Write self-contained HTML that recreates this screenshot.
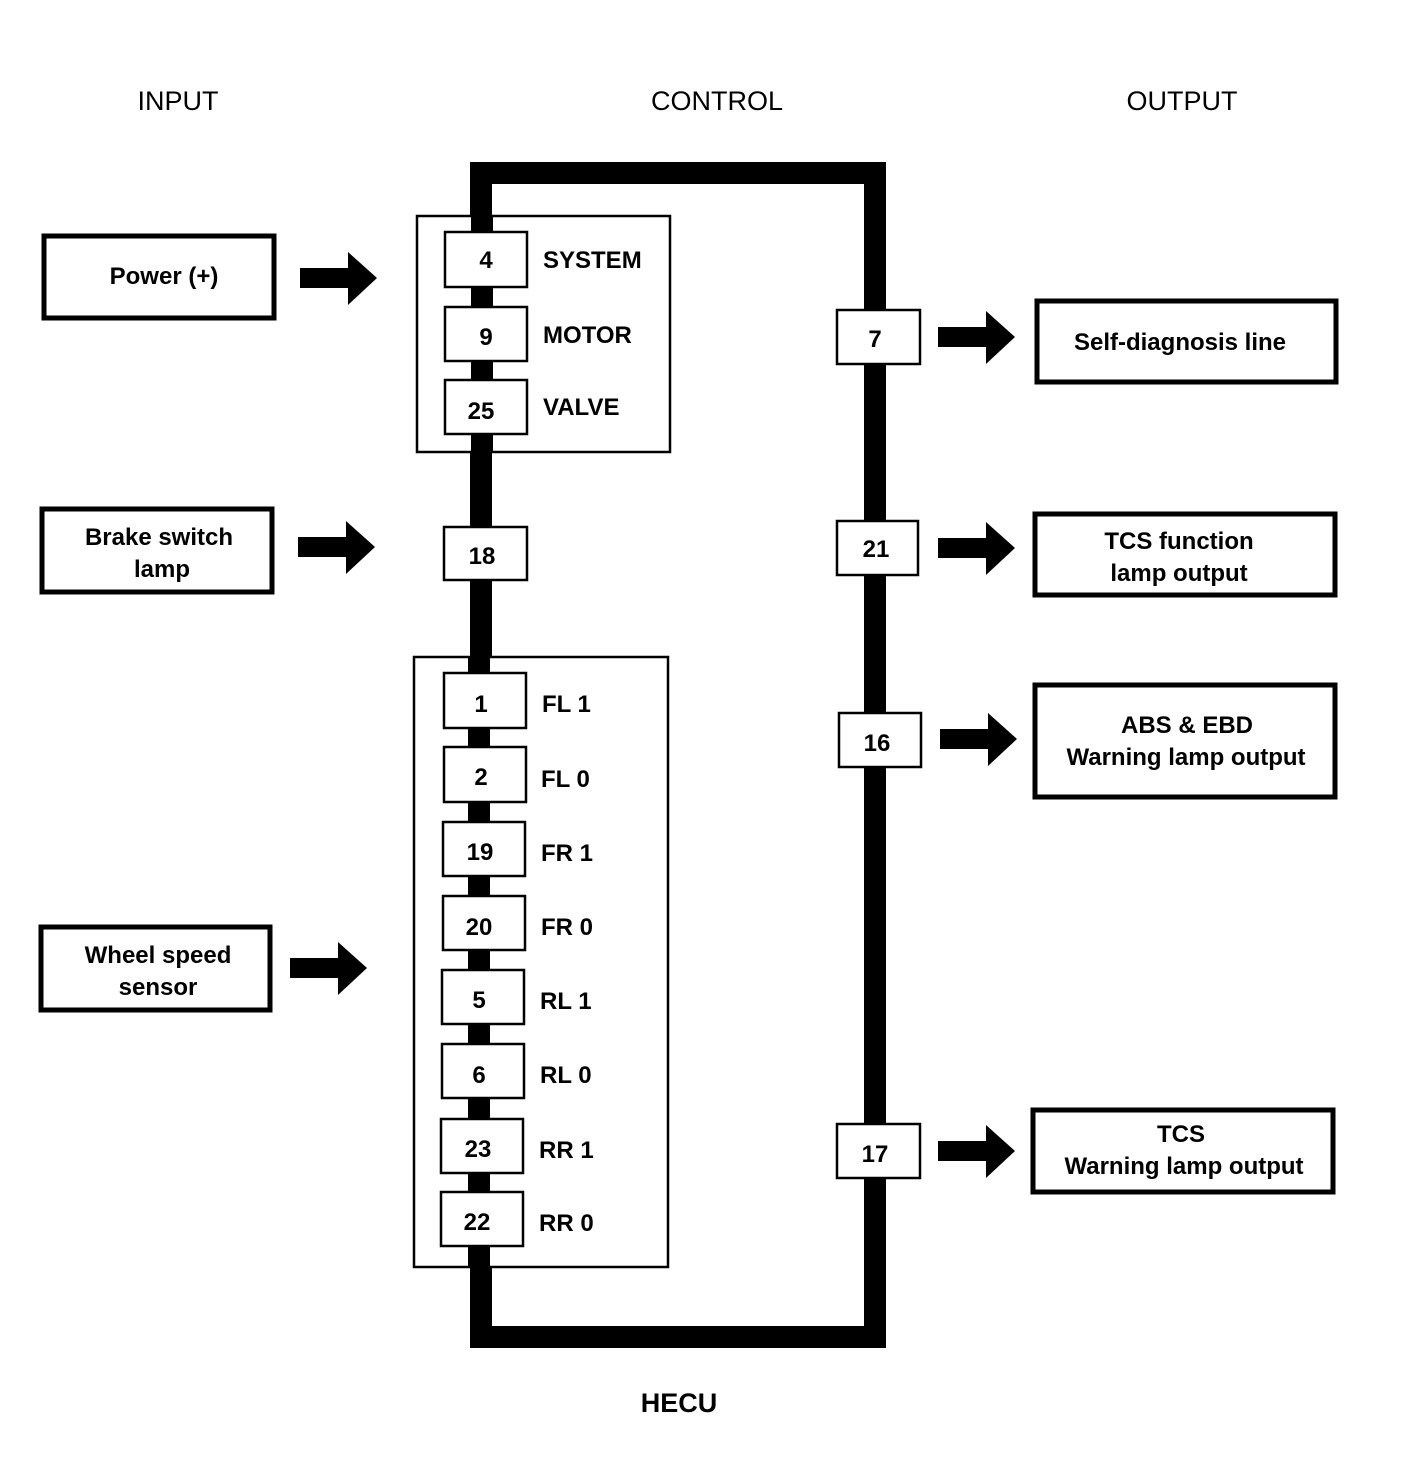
<!DOCTYPE html>
<html><head><meta charset="utf-8"><style>
html,body{margin:0;padding:0;background:#fff;}
svg{display:block;}
text{font-family:"Liberation Sans",Arial,sans-serif;fill:#000;}
</style></head><body>
<svg width="1408" height="1460" viewBox="0 0 1408 1460" xmlns="http://www.w3.org/2000/svg">
<g font-size="27" text-anchor="middle">
<text x="178" y="110">INPUT</text>
<text x="717" y="110">CONTROL</text>
<text x="1182" y="110">OUTPUT</text>
<text x="679" y="1412" font-weight="bold">HECU</text>
</g>
<!-- HECU loop -->
<path d="M481 1337 V173 H875 V1337 Z" fill="none" stroke="#000" stroke-width="22"/>
<!-- group boxes -->
<rect x="417" y="216" width="253" height="236" fill="#fff" stroke="#000" stroke-width="2.5"/>
<rect x="414" y="657" width="254" height="610" fill="#fff" stroke="#000" stroke-width="2.5"/>
<!-- bar segments inside groups -->
<rect x="471" y="216" width="22" height="236" fill="#000"/>
<rect x="468" y="657" width="22" height="610" fill="#000"/>
<g fill="#fff" stroke="#000" stroke-width="2.5">
<rect x="445" y="232" width="82" height="55"/>
<rect x="445" y="307" width="82" height="54"/>
<rect x="445" y="380" width="82" height="54"/>
<rect x="444" y="527" width="83" height="53"/>
<rect x="444" y="673" width="82" height="55"/>
<rect x="444" y="747" width="82" height="55"/>
<rect x="443" y="822" width="82" height="54"/>
<rect x="443" y="896" width="82" height="54"/>
<rect x="442" y="970" width="82" height="54"/>
<rect x="442" y="1044" width="82" height="54"/>
<rect x="441" y="1119" width="82" height="54"/>
<rect x="441" y="1192" width="82" height="54"/>
<rect x="837" y="310" width="83" height="54"/>
<rect x="837" y="521" width="81" height="54"/>
<rect x="839" y="713" width="82" height="54"/>
<rect x="837" y="1124" width="83" height="54"/>
</g>
<g fill="#fff" stroke="#000" stroke-width="5">
<rect x="44" y="236" width="230" height="82"/>
<rect x="42" y="509" width="230" height="83"/>
<rect x="41" y="927" width="229" height="83"/>
<rect x="1037" y="301" width="299" height="81"/>
<rect x="1035" y="514" width="300" height="81"/>
<rect x="1035" y="685" width="300" height="112"/>
<rect x="1033" y="1110" width="300" height="82"/>
</g>
<g fill="#000">
<path d="M300 268 H348 V252 L377 278 L348 305 V288 H300 Z"/>
<path d="M298 537 H346 V521 L375 547 L346 574 V557 H298 Z"/>
<path d="M290 958 H338 V942 L367 968 L338 995 V978 H290 Z"/>
<path d="M938 327 H986 V311 L1015 337 L986 364 V347 H938 Z"/>
<path d="M938 538 H986 V522 L1015 548 L986 575 V558 H938 Z"/>
<path d="M940 729 H988 V713 L1017 739 L988 766 V749 H940 Z"/>
<path d="M938 1141 H986 V1125 L1015 1151 L986 1178 V1161 H938 Z"/>
</g>
<g font-size="24" font-weight="bold" text-anchor="middle">
<text x="486" y="268">4</text>
<text x="486" y="345">9</text>
<text x="481" y="419">25</text>
<text x="482" y="564">18</text>
<text x="481" y="712">1</text>
<text x="481" y="785">2</text>
<text x="480" y="860">19</text>
<text x="479" y="935">20</text>
<text x="479" y="1008">5</text>
<text x="479" y="1083">6</text>
<text x="478" y="1157">23</text>
<text x="477" y="1230">22</text>
<text x="875" y="347">7</text>
<text x="876" y="557">21</text>
<text x="877" y="751">16</text>
<text x="875" y="1162">17</text>
<text x="164" y="284">Power (+)</text>
<text x="159" y="545">Brake switch</text>
<text x="162" y="577">lamp</text>
<text x="158" y="963">Wheel speed</text>
<text x="158" y="995">sensor</text>
<text x="1180" y="350">Self-diagnosis line</text>
<text x="1179" y="549">TCS function</text>
<text x="1179" y="581">lamp output</text>
<text x="1187" y="733">ABS &amp; EBD</text>
<text x="1186" y="765">Warning lamp output</text>
<text x="1181" y="1142">TCS</text>
<text x="1184" y="1174">Warning lamp output</text>
</g>
<g font-size="24" font-weight="bold">
<text x="543" y="268">SYSTEM</text>
<text x="543" y="343">MOTOR</text>
<text x="543" y="415">VALVE</text>
<text x="542" y="712">FL 1</text>
<text x="541" y="787">FL 0</text>
<text x="541" y="861">FR 1</text>
<text x="541" y="935">FR 0</text>
<text x="540" y="1009">RL 1</text>
<text x="540" y="1083">RL 0</text>
<text x="539" y="1158">RR 1</text>
<text x="539" y="1231">RR 0</text>
</g>
</svg>
</body></html>
